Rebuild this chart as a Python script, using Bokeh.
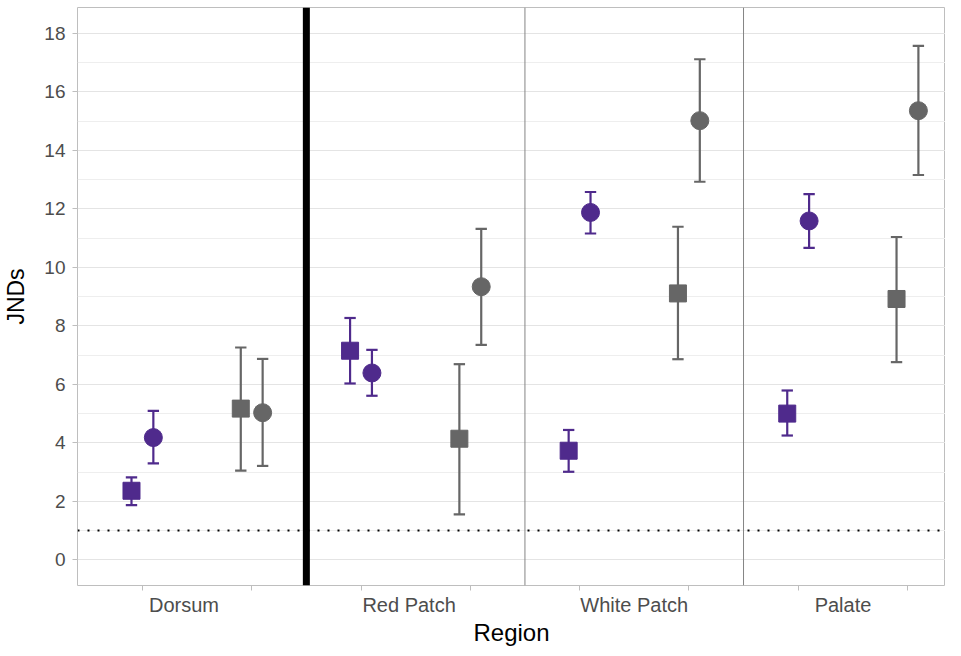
from bokeh.plotting import figure
from bokeh.models import ColumnDataSource, Span, FixedTicker, Range1d
from bokeh.embed import file_html
from bokeh.resources import INLINE

regions = ["Dorsum", "Red Patch", "White Patch", "Palate"]

# purple squares
purple_sq_mean = [2.36, 7.15, 3.73, 5.00]
purple_sq_lo = [1.87, 6.03, 3.01, 4.25]
purple_sq_hi = [2.82, 8.27, 4.44, 5.79]
# purple circles
purple_ci_mean = [4.18, 6.39, 11.88, 11.59]
purple_ci_lo = [3.30, 5.61, 11.16, 10.67]
purple_ci_hi = [5.09, 7.18, 12.58, 12.51]
# grey squares
gray_sq_mean = [5.17, 4.14, 9.11, 8.92]
gray_sq_lo = [3.05, 1.55, 6.86, 6.76]
gray_sq_hi = [7.26, 6.69, 11.39, 11.04]
# grey circles
gray_ci_mean = [5.03, 9.34, 15.02, 15.36]
gray_ci_lo = [3.21, 7.35, 12.93, 13.16]
gray_ci_hi = [6.87, 11.32, 17.12, 17.58]

y_ticks = [0, 2, 4, 6, 8, 10, 12, 14, 16, 18]
y_minor = [1, 3, 5, 7, 9, 11, 13, 15, 17]
threshold = 1.0
label_shift = [-0.06, -0.03, 0.0, -0.045]

PURPLE = "#4F2A8C"
GREY = "#666666"
FONT = "Liberation Sans"

p = figure(width=945, height=648, output_backend="svg", toolbar_location=None,
           x_range=Range1d(-0.547, 3.424), y_range=Range1d(-0.88, 18.89),
           min_border_left=77, min_border_right=0, min_border_top=7,
           min_border_bottom=60)
p.background_fill_color = "white"
p.border_fill_color = "white"
p.outline_line_color = "#BEBEBE"
p.outline_line_width = 1

# grid
p.xgrid.grid_line_color = None
p.ygrid.grid_line_color = "#E4E4E4"
p.ygrid.grid_line_width = 1
p.ygrid.minor_grid_line_color = "#EEEEEE"
p.ygrid.minor_grid_line_width = 1

# y axis
p.yaxis.ticker = FixedTicker(ticks=y_ticks, minor_ticks=y_minor)
p.yaxis.axis_line_color = None
p.yaxis.major_tick_line_color = "#BEBEBE"
p.yaxis.major_tick_out = 5
p.yaxis.major_tick_in = 0
p.yaxis.minor_tick_line_color = None
p.yaxis.major_label_standoff = 7
p.yaxis.major_label_text_font = FONT
p.yaxis.major_label_text_font_size = "19px"
p.yaxis.major_label_text_color = "#4D4D4D"
p.yaxis.axis_label = "JNDs"
p.yaxis.axis_label_text_font = FONT
p.yaxis.axis_label_text_font_size = "23px"
p.yaxis.axis_label_text_font_style = "normal"
p.yaxis.axis_label_text_color = "black"
p.yaxis.axis_label_standoff = 12

# x axis: labels at group positions, tick marks at pair centres
n = len(regions)
label_pos = [i + label_shift[i] for i in range(n)]
pair_pos = []
for i in range(n):
    pair_pos += [i - 0.25, i + 0.25]
p.xaxis.ticker = FixedTicker(ticks=label_pos, minor_ticks=pair_pos)
p.xaxis.major_label_overrides = {label_pos[i]: regions[i] for i in range(n)}
p.xaxis.axis_line_color = None
p.xaxis.major_tick_line_color = None
p.xaxis.major_tick_out = 0
p.xaxis.major_tick_in = 0
p.xaxis.minor_tick_line_color = "#BEBEBE"
p.xaxis.minor_tick_out = 5
p.xaxis.minor_tick_in = 0
p.xaxis.major_label_standoff = 3
p.xaxis.major_label_text_font = FONT
p.xaxis.major_label_text_font_size = "20px"
p.xaxis.major_label_text_color = "#4D4D4D"
p.xaxis.axis_label = "Region"
p.xaxis.axis_label_text_font = FONT
p.xaxis.axis_label_text_font_size = "24px"
p.xaxis.axis_label_text_font_style = "normal"
p.xaxis.axis_label_text_color = "black"
p.xaxis.axis_label_standoff = 0

# separators between regions
for i in range(n - 1):
    if i == 0:
        p.add_layout(Span(location=i + 0.5, dimension="height", line_color="black", line_width=7))
    else:
        p.add_layout(Span(location=i + 0.5, dimension="height", line_color="#858585", line_width=1))

# threshold
p.add_layout(Span(location=threshold, dimension="width", line_color="black",
                  line_width=2, line_dash="2 8"))

series = [
    (purple_sq_mean, purple_sq_lo, purple_sq_hi, -0.30, "square", PURPLE),
    (purple_ci_mean, purple_ci_lo, purple_ci_hi, -0.20, "circle", PURPLE),
    (gray_sq_mean, gray_sq_lo, gray_sq_hi, 0.20, "square", GREY),
    (gray_ci_mean, gray_ci_lo, gray_ci_hi, 0.30, "circle", GREY),
]
cap = 0.026
for mean, lo, hi, off, marker, col in series:
    xs = [i + off for i in range(n)]
    src = ColumnDataSource(dict(x=xs, y=mean, lo=lo, hi=hi,
                                xl=[x - cap for x in xs], xr=[x + cap for x in xs]))
    p.segment(x0="x", y0="lo", x1="x", y1="hi", source=src, line_color=col, line_width=2.2)
    p.segment(x0="xl", y0="lo", x1="xr", y1="lo", source=src, line_color=col, line_width=2.2)
    p.segment(x0="xl", y0="hi", x1="xr", y1="hi", source=src, line_color=col, line_width=2.2)
    p.scatter(x="x", y="y", source=src, marker=marker, size=18 if marker == "circle" else 17,
              fill_color=col, line_color=col, line_width=1)

open("out.html", "w").write(file_html(p, INLINE))
